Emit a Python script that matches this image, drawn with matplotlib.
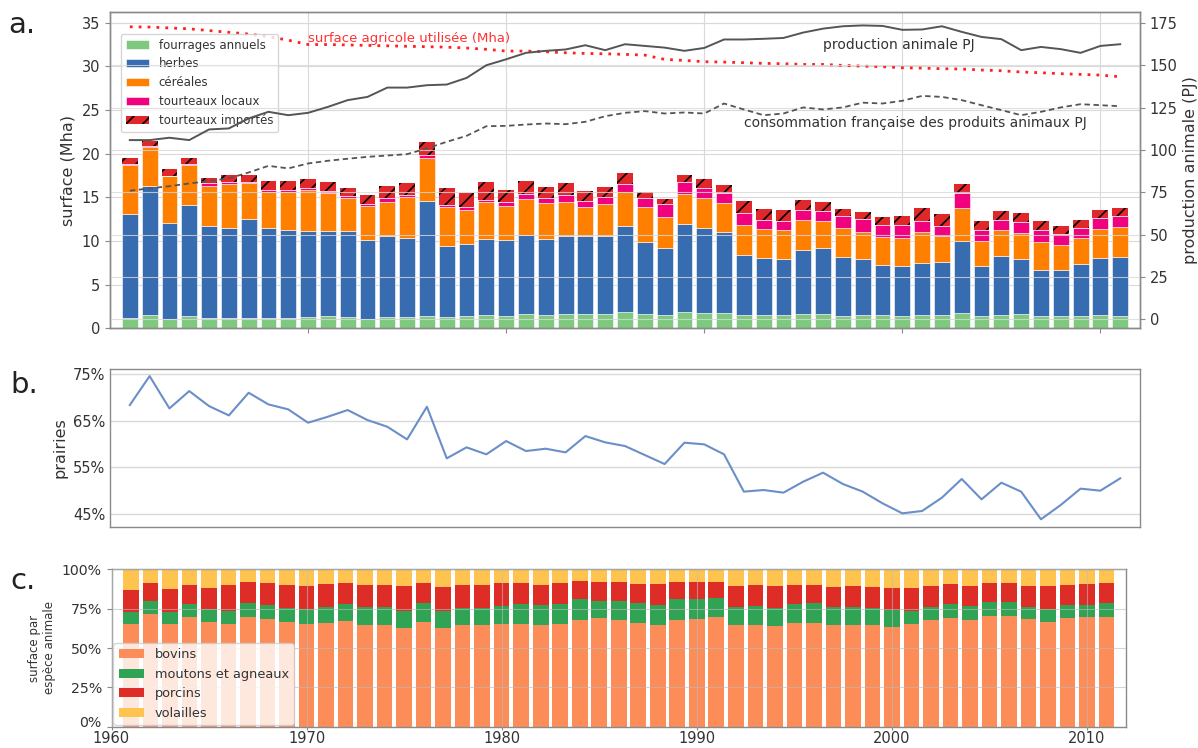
import matplotlib
matplotlib.use("Agg")
import matplotlib.pyplot as plt
from matplotlib.ticker import PercentFormatter
import numpy as np

plt.rcParams['font.family'] = ['DejaVu Sans']
plt.rcParams['hatch.color'] = 'black'
plt.rcParams['hatch.linewidth'] = 1.2

years = list(range(1961, 2012))

# ---- panel a : surfaces (Mha) ----
fourrages = [1.18, 1.48, 1.10, 1.37, 1.18, 1.18, 1.22, 1.18, 1.18, 1.29,
             1.37, 1.29, 1.10, 1.29, 1.29, 1.37, 1.29, 1.37, 1.56, 1.45,
             1.67, 1.56, 1.60, 1.67, 1.60, 1.87, 1.60, 1.52, 1.87, 1.75,
             1.79, 1.48, 1.48, 1.48, 1.67, 1.67, 1.37, 1.48, 1.48, 1.41,
             1.48, 1.48, 1.75, 1.45, 1.52, 1.60, 1.45, 1.37, 1.45, 1.52, 1.37]
herbes = [11.88, 14.77, 10.97, 12.75, 10.51, 10.35, 11.30, 10.35, 10.05, 9.83,
          9.82, 9.90, 9.03, 9.29, 9.06, 13.25, 8.19, 8.30, 8.68, 8.71,
          9.06, 8.68, 8.94, 8.95, 9.02, 9.82, 8.34, 7.73, 10.04, 9.78,
          9.21, 6.93, 6.55, 6.48, 7.35, 7.50, 6.74, 6.48, 5.79, 5.67,
          6.02, 6.10, 8.30, 5.67, 6.74, 6.28, 5.17, 5.25, 5.93, 6.55, 6.85]
cereales = [5.63, 4.53, 5.33, 4.61, 4.64, 5.03, 4.08, 4.12, 4.34, 4.72,
            4.27, 3.73, 3.84, 3.85, 4.65, 4.83, 4.38, 3.88, 4.26, 3.89,
            4.08, 4.07, 3.96, 3.24, 3.58, 3.88, 3.92, 3.50, 3.43, 3.35,
            3.31, 3.43, 3.35, 3.27, 3.43, 3.13, 3.42, 3.04, 3.20, 3.27,
            3.50, 3.04, 3.69, 2.93, 3.05, 3.08, 3.32, 2.97, 2.97, 3.31, 3.39]
tourteaux_locaux = [0.08, 0.05, 0.07, 0.07, 0.27, 0.15, 0.19, 0.22, 0.30, 0.22,
                    0.22, 0.27, 0.27, 0.45, 0.26, 0.38, 0.30, 0.31, 0.23, 0.45,
                    0.57, 0.61, 0.76, 0.68, 0.87, 0.91, 1.10, 1.45, 1.37, 1.18,
                    1.18, 1.33, 0.99, 1.03, 1.10, 1.18, 1.34, 1.49, 1.41, 1.45,
                    1.30, 1.14, 1.71, 1.22, 1.14, 1.18, 1.29, 1.18, 1.15, 1.22, 1.26]
tourteaux_importes = [0.68, 0.65, 0.76, 0.69, 0.64, 0.84, 0.76, 0.96, 0.96, 1.03,
                      1.03, 0.87, 1.06, 1.37, 1.37, 1.45, 1.87, 1.63, 2.06, 1.34,
                      1.45, 1.22, 1.34, 1.14, 1.07, 1.30, 0.61, 0.57, 0.84, 1.07,
                      0.95, 1.41, 1.26, 1.29, 1.14, 0.99, 0.76, 0.87, 0.91, 1.07,
                      1.52, 1.30, 1.11, 1.03, 0.99, 1.03, 1.07, 0.99, 0.95, 0.95, 0.87]
sau = [34.53, 34.50, 34.40, 34.30, 34.10, 33.90, 33.70, 33.40, 33.00, 32.50,
       32.50, 32.45, 32.40, 32.35, 32.30, 32.25, 32.20, 32.10, 31.95, 31.75,
       31.75, 31.67, 31.56, 31.48, 31.44, 31.37, 31.29, 30.80, 30.68, 30.53,
       30.49, 30.42, 30.34, 30.30, 30.22, 30.22, 30.11, 30.03, 29.96, 29.84,
       29.80, 29.73, 29.69, 29.58, 29.50, 29.35, 29.27, 29.16, 29.08, 29.00, 28.81]
production = [105.8, 105.8, 107.2, 105.8, 112.1, 112.7, 118.6, 122.5, 120.5, 121.9,
              125.4, 129.4, 131.3, 136.8, 136.8, 138.2, 138.6, 142.5, 150.0, 153.5,
              157.3, 158.5, 159.3, 161.8, 158.9, 162.4, 161.4, 160.4, 158.5, 160.2,
              165.2, 165.2, 165.6, 166.1, 169.3, 171.6, 173.0, 173.5, 173.2, 170.9,
              171.1, 173.0, 169.7, 166.7, 165.4, 158.9, 160.8, 159.5, 157.3, 161.4, 162.4]
consommation = [75.9, 77.3, 78.6, 80.2, 81.6, 83.2, 86.7, 90.6, 89.1, 92.0,
                93.6, 94.8, 95.9, 96.7, 97.5, 100.9, 104.8, 108.3, 114.0, 114.2,
                115.0, 115.6, 115.2, 116.6, 119.9, 121.9, 122.9, 121.5, 122.1, 121.5,
                127.4, 123.9, 120.5, 121.5, 125.1, 123.9, 125.1, 127.9, 127.4, 129.0,
                131.9, 131.3, 129.4, 126.4, 123.5, 120.5, 122.5, 125.1, 127.0, 126.4, 125.8]

# ---- panel b : part des prairies (%) ----
prairies = [68.36, 74.57, 67.64, 71.36, 68.14, 66.14, 71.00, 68.50, 67.43, 64.57,
            65.86, 67.29, 65.14, 63.71, 61.00, 68.00, 56.93, 59.29, 57.79, 60.64,
            58.50, 59.00, 58.21, 61.71, 60.36, 59.57, 57.64, 55.71, 60.29, 59.93,
            57.79, 49.79, 50.14, 49.57, 51.93, 53.86, 51.43, 49.79, 47.29, 45.14,
            45.64, 48.50, 52.50, 48.14, 51.71, 49.79, 43.86, 46.93, 50.43, 50.00, 52.64]

# ---- panel c : surface par espece animale (parts) ----
bovins = [0.655, 0.717, 0.655, 0.698, 0.664, 0.655, 0.698, 0.685, 0.664, 0.651,
          0.660, 0.670, 0.647, 0.647, 0.626, 0.668, 0.626, 0.643, 0.647, 0.655,
          0.655, 0.647, 0.655, 0.677, 0.689, 0.681, 0.660, 0.647, 0.677, 0.685,
          0.694, 0.647, 0.643, 0.638, 0.660, 0.660, 0.643, 0.647, 0.643, 0.634,
          0.651, 0.681, 0.689, 0.681, 0.702, 0.702, 0.685, 0.668, 0.689, 0.694, 0.698]
moutons = [0.073, 0.081, 0.073, 0.079, 0.085, 0.083, 0.089, 0.087, 0.091, 0.098,
           0.100, 0.107, 0.115, 0.115, 0.112, 0.119, 0.106, 0.108, 0.104, 0.115,
           0.122, 0.127, 0.124, 0.132, 0.109, 0.117, 0.127, 0.125, 0.132, 0.128,
           0.123, 0.113, 0.121, 0.117, 0.117, 0.123, 0.117, 0.113, 0.108, 0.106,
           0.085, 0.081, 0.088, 0.089, 0.089, 0.089, 0.077, 0.081, 0.085, 0.080, 0.085]
porcins = [0.140, 0.113, 0.144, 0.121, 0.134, 0.160, 0.132, 0.143, 0.143, 0.145,
           0.146, 0.134, 0.136, 0.136, 0.156, 0.128, 0.157, 0.147, 0.151, 0.141,
           0.134, 0.128, 0.132, 0.114, 0.121, 0.121, 0.122, 0.134, 0.110, 0.106,
           0.102, 0.134, 0.134, 0.139, 0.125, 0.119, 0.127, 0.134, 0.136, 0.141,
           0.145, 0.132, 0.129, 0.124, 0.124, 0.120, 0.132, 0.145, 0.128, 0.132, 0.128]
volailles = [0.132, 0.089, 0.128, 0.102, 0.117, 0.102, 0.081, 0.085, 0.102, 0.106,
             0.094, 0.089, 0.102, 0.102, 0.106, 0.085, 0.111, 0.102, 0.098, 0.089,
             0.089, 0.098, 0.089, 0.077, 0.081, 0.081, 0.091, 0.094, 0.081, 0.081,
             0.081, 0.106, 0.102, 0.106, 0.098, 0.098, 0.113, 0.106, 0.113, 0.119,
             0.119, 0.106, 0.094, 0.106, 0.085, 0.089, 0.106, 0.106, 0.098, 0.094, 0.089]

W, H = 1198, 748
fig = plt.figure(figsize=(W / 100, H / 100), dpi=100)

def box(l, t, r, b):
    return [l / W, 1 - b / H, (r - l) / W, (b - t) / H]

SPINE = '#8a8a8a'
GRID = '#d9d9d9'
TICK_FS = 10.5
LAB_FS = 11.5

def style(ax):
    for s in ax.spines.values():
        s.set_color(SPINE)
        s.set_linewidth(1.0)
    ax.tick_params(colors='#333333', labelsize=TICK_FS, color=SPINE)

x = np.array(years)

# ================= panel a =================
ax = fig.add_axes(box(110, 11.7, 1140, 328.3))
style(ax)
ax.grid(True, color=GRID, lw=0.8)
ax.set_axisbelow(True)
bw = 0.8
ec = dict(edgecolor='white', linewidth=0.4)
b0 = np.zeros(len(x))
ax.bar(x, fourrages, bw, bottom=b0, color='#7fc97f', label='fourrages annuels', **ec)
b1 = b0 + np.array(fourrages)
ax.bar(x, herbes, bw, bottom=b1, color='#386cb0', label='herbes', **ec)
b2 = b1 + np.array(herbes)
ax.bar(x, cereales, bw, bottom=b2, color='#ff7f00', label='céréales', **ec)
b3 = b2 + np.array(cereales)
ax.bar(x, tourteaux_locaux, bw, bottom=b3, color='#f0027f', label='tourteaux locaux', **ec)
b4 = b3 + np.array(tourteaux_locaux)
ax.bar(x, tourteaux_importes, bw, bottom=b4, color='#e0282a', hatch='//',
       linewidth=0, label='tourteaux importés')
ax.plot(x, sau, color='#ff2020', ls=(0, (1, 2.2)), lw=2.0)
ax.text(1970, 33.15, 'surface agricole utilisée (Mha)', color='#ff3333',
        fontsize=9.5, va='center', ha='left')
ax.set_xlim(1960, 2012)
ax.set_ylim(0, 36.26)
ax.set_yticks([0, 5, 10, 15, 20, 25, 30, 35])
ax.set_ylabel('surface (Mha)', fontsize=LAB_FS, color='#333333')
ax.set_xticks([1970, 1980, 1990, 2000, 2010])
ax.tick_params(axis='x', labelbottom=False)
leg = ax.legend(loc='upper left', bbox_to_anchor=(0.0107, 0.93), borderaxespad=0,
                fontsize=8.5, framealpha=0.8, edgecolor='#cccccc')
for t in leg.get_texts():
    t.set_color('#333333')

ax2 = ax.twinx()
style(ax2)
ax2.grid(True, color=GRID, lw=0.8, alpha=0.8)
ax2.plot(x, production, color='#555555', lw=1.4)
ax2.plot(x, consommation, color='#555555', lw=1.3, ls=(0, (3, 2)))
ax2.text(1996, 162, 'production animale PJ', color='#333333', fontsize=10,
         va='center', ha='left')
ax2.text(1992, 116, 'consommation française des produits animaux PJ',
         color='#333333', fontsize=10, va='center', ha='left')
ax2.set_ylim(-5.3, 181.6)
ax2.set_yticks([0, 25, 50, 75, 100, 125, 150, 175])
ax2.set_ylabel('production animale (PJ)', fontsize=LAB_FS, color='#333333')
ax2.set_xlim(1960, 2012)

# ================= panel b =================
bx = fig.add_axes(box(110, 369.3, 1140, 526.7))
style(bx)
bx.plot(x, prairies, color='#6a8fc8', lw=1.5)
bx.set_xlim(1960, 2012)
bx.set_ylim(42.27, 76.03)
bx.set_yticks([45, 55, 65, 75])
bx.yaxis.set_major_formatter(PercentFormatter(xmax=100, decimals=0))
bx.grid(True, axis='y', color=GRID, lw=1.0)
bx.set_xticks([])
bx.tick_params(axis='y', length=0)
bx.set_ylabel('prairies', fontsize=LAB_FS, color='#333333')

# ================= panel c =================
cx = fig.add_axes(box(111.5, 569.3, 1126, 726.7))
style(cx)
c0 = np.zeros(len(x))
cx.bar(x, bovins, bw, bottom=c0, color='#fc8d59', label='bovins', linewidth=0)
c1 = c0 + np.array(bovins)
cx.bar(x, moutons, bw, bottom=c1, color='#31a354', label='moutons et agneaux', linewidth=0)
c2 = c1 + np.array(moutons)
cx.bar(x, porcins, bw, bottom=c2, color='#de2d26', label='porcins', linewidth=0)
c3 = c2 + np.array(porcins)
cx.bar(x, volailles, bw, bottom=c3, color='#fec44f', label='volailles', linewidth=0)
cx.set_xlim(1960, 2012)
cx.set_ylim(0, 1.0)
cx.set_yticks([0, 0.25, 0.5, 0.75, 1.0])
cx.yaxis.set_major_formatter(PercentFormatter(xmax=1, decimals=0))
cx.set_xticks([1960, 1970, 1980, 1990, 2000, 2010])
cx.grid(True, color='#bbbbbb', lw=0.8, alpha=0.6)
cx.set_axisbelow(False)
cx.tick_params(axis='y', labelsize=10.2)
cx.tick_params(axis='x', labelsize=10.5, length=2.5, pad=0.5)
# the lowest y label sits on its baseline so it clears the "1960" label
cx.yaxis.get_major_ticks()[0].label1.set_verticalalignment('baseline')
cx.set_ylabel('surface par\nespèce animale', fontsize=8.5, color='#333333')
leg2 = cx.legend(loc='lower left', borderaxespad=0.15, fontsize=9.3,
                 framealpha=0.8, edgecolor='#cccccc')
for t in leg2.get_texts():
    t.set_color('#333333')

# panel letters
fig.text(8 / W, 1 - 33 / H, 'a.', fontsize=21, color='#222222')
fig.text(10 / W, 1 - 393 / H, 'b.', fontsize=21, color='#222222')
fig.text(10 / W, 1 - 589 / H, 'c.', fontsize=21, color='#222222')

fig.savefig('out.png', dpi=100)
